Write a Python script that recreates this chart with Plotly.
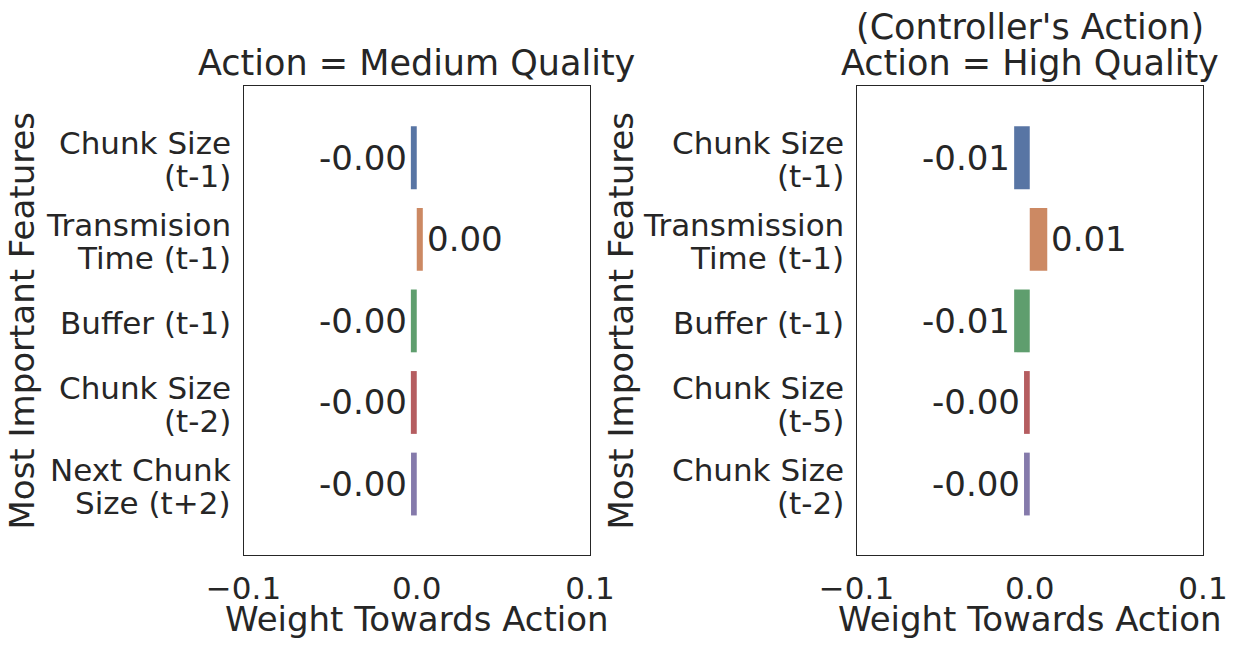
import plotly.graph_objects as go

# ---- data ----
left_features = ["Chunk Size<br>(t-1)", "Transmision<br>Time (t-1)", "Buffer (t-1)",
                 "Chunk Size<br>(t-2)", "Next Chunk<br>Size (t+2)"]
left_weights = [-0.0034, 0.0035, -0.0034, -0.0034, -0.0033]

right_features = ["Chunk Size<br>(t-1)", "Transmission<br>Time (t-1)", "Buffer (t-1)",
                  "Chunk Size<br>(t-5)", "Chunk Size<br>(t-2)"]
right_weights = [-0.0090, 0.0101, -0.0090, -0.0033, -0.0033]

left_title = ["Action = Medium Quality"]
right_title = ["(Controller's Action)", "Action = High Quality"]
x_title = "Weight Towards Action"
y_title = "Most Important Features"
x_ticks = [-0.1, 0.0, 0.1]
x_ticktext = ["\u22120.1", "0.0", "0.1"]

colors = ["#5875A4", "#CC8963", "#5F9E6E", "#B55D60", "#857AAB"]

FONT = "DejaVu Sans"
TXT = "#262626"
W, H = 1238, 648
BIG = 34
TITLE = 35
TICK = 31
LINE_GAP = 33  # px between lines of a two-line category label

top_px, bot_px = 86, 555
panels = [
    (left_features, left_weights, "x", "y", left_title, (243.5, 590), 44),
    (right_features, right_weights, "x2", "y2", right_title, (856.5, 1203), 643),
]

fig = go.Figure()

for feats, vals, xa, ya, title, (l, r), ytitle_right in panels:
    fig.add_trace(go.Bar(
        x=vals, y=feats, orientation="h", xaxis=xa, yaxis=ya,
        marker=dict(color=colors, line=dict(width=0)),
        width=0.77, showlegend=False, hoverinfo="skip",
    ))
    for f, v in zip(feats, vals):
        # value label at the bar end
        fig.add_annotation(
            x=v, y=f, xref=xa, yref=ya, text=f"{v:.2f}", showarrow=False,
            xanchor="right" if v < 0 else "left", xshift=-2 if v < 0 else 2,
            font=dict(family=FONT, size=BIG, color=TXT),
        )
        # category tick label (tighter line spacing than plotly's default)
        lines = f.split("<br>")
        n = len(lines)
        for i, ln in enumerate(lines):
            fig.add_annotation(
                x=(l - 11) / W, y=f, xref="paper", yref=ya, text=ln, showarrow=False,
                xanchor="right", yanchor="middle",
                yshift=((n - 1) / 2 - i) * LINE_GAP - 2,
                font=dict(family=FONT, size=TICK, color=TXT),
            )
    # subplot titles (one annotation per line, bottom line just above the frame)
    for k, line in enumerate(reversed(title)):
        fig.add_annotation(
            x=(l + r) / 2 / W, y=1 - (top_px - 1 - 36 * k) / H, xref="paper", yref="paper",
            text=line, showarrow=False, xanchor="center", yanchor="bottom",
            font=dict(family=FONT, size=TITLE, color=TXT),
        )
    # x-axis title
    fig.add_annotation(
        x=(l + r) / 2 / W, y=1 - 641 / H, xref="paper", yref="paper",
        text=x_title, showarrow=False, xanchor="center", yanchor="bottom",
        font=dict(family=FONT, size=BIG, color=TXT),
    )
    # y-axis title
    fig.add_annotation(
        x=ytitle_right / W, y=1 - (top_px + bot_px) / 2 / H, xref="paper", yref="paper",
        text=y_title, showarrow=False, xanchor="right", yanchor="middle", textangle=-90,
        font=dict(family=FONT, size=BIG, color=TXT),
    )

def xaxis(dom):
    return dict(domain=dom, range=[-0.1, 0.1], tickvals=x_ticks, ticktext=x_ticktext,
                showgrid=False, zeroline=False, showline=True, mirror=True,
                linecolor=TXT, linewidth=1.3, ticks="outside", ticklen=6,
                tickcolor="rgba(0,0,0,0)", automargin=False,
                tickfont=dict(family=FONT, size=TICK, color=TXT))

def yaxis(anchor, feats):
    return dict(domain=[1 - bot_px / H, 1 - top_px / H], anchor=anchor,
                type="category", categoryorder="array", categoryarray=feats,
                range=[4.87, -0.88], showgrid=False, zeroline=False, showline=True,
                mirror=True, linecolor=TXT, linewidth=1.3, showticklabels=False,
                ticks="", automargin=False)

fig.update_layout(
    width=W, height=H, margin=dict(l=0, r=0, t=0, b=0),
    paper_bgcolor="white", plot_bgcolor="white", bargap=0.2,
    xaxis=dict(xaxis([243.5 / W, 590 / W]), anchor="y"),
    xaxis2=dict(xaxis([856.5 / W, 1203 / W]), anchor="y2"),
    yaxis=yaxis("x", left_features),
    yaxis2=yaxis("x2", right_features),
)

fig.write_html("out.html", config={"displayModeBar": False},
               post_script="document.body.style.margin='0';")
